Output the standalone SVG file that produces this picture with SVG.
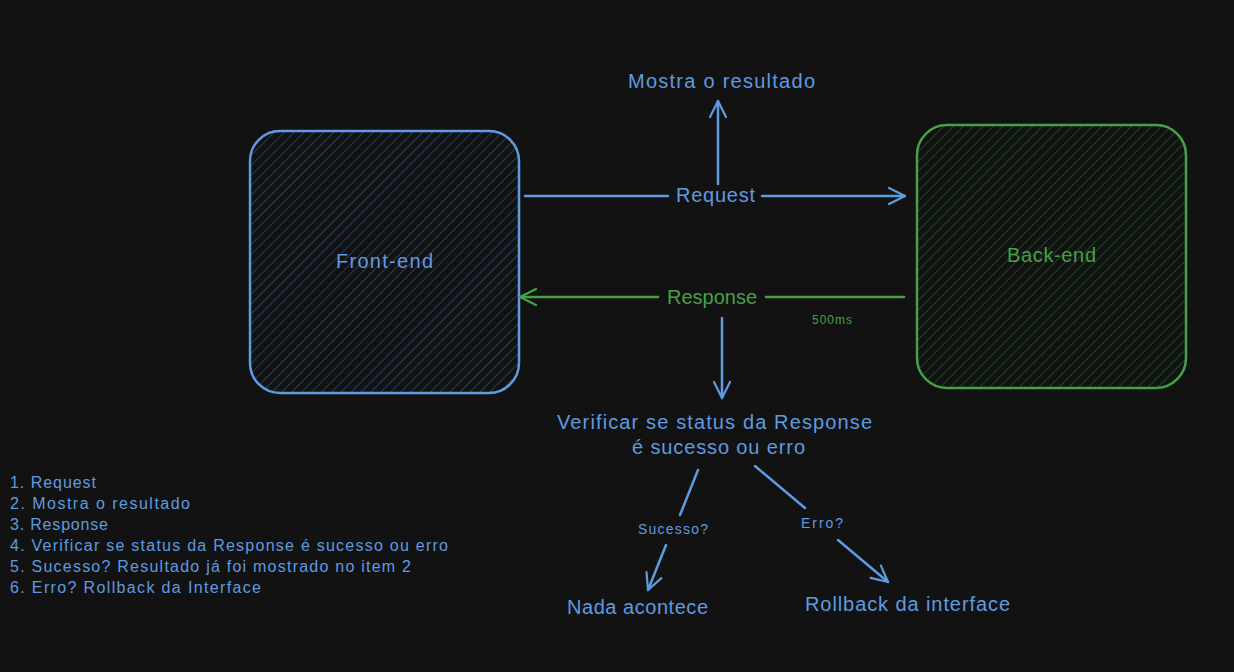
<svg xmlns="http://www.w3.org/2000/svg" width="1234" height="672" viewBox="0 0 1234 672">
<defs>
<pattern id="hatchBlue" patternUnits="userSpaceOnUse" width="7" height="7" patternTransform="rotate(45)">
<line x1="0" y1="0" x2="0" y2="7" stroke="#2a5785" stroke-width="1.3"/>
</pattern>
<pattern id="hatchGreen" patternUnits="userSpaceOnUse" width="7" height="7" patternTransform="rotate(45)">
<line x1="0" y1="0" x2="0" y2="7" stroke="#1f6226" stroke-width="1.3"/>
</pattern>
<marker id="arrowBlue" viewBox="0 0 20 20" refX="18" refY="10" markerWidth="20" markerHeight="20" markerUnits="userSpaceOnUse" orient="auto">
<path d="M2,2 L18,10 L2,18" fill="none" stroke="#5e9be0" stroke-width="2.2" stroke-linecap="round" stroke-linejoin="round"/>
</marker>
<marker id="arrowGreen" viewBox="0 0 20 20" refX="18" refY="10" markerWidth="20" markerHeight="20" markerUnits="userSpaceOnUse" orient="auto">
<path d="M2,2 L18,10 L2,18" fill="none" stroke="#47a047" stroke-width="2.2" stroke-linecap="round" stroke-linejoin="round"/>
</marker>
</defs>
<style>
text { font-family: "Liberation Sans", Arial, sans-serif; }
.blue { fill: #5e9be0; }
.green { fill: #47a047; }
.lb { stroke: #5e9be0; stroke-width: 2.5; fill: none; stroke-linecap: round; }
.lg { stroke: #47a047; stroke-width: 2.5; fill: none; stroke-linecap: round; }
.t20 { font-size: 20px; }
.t16 { font-size: 16px; }
.t14 { font-size: 14px; }
</style>
<rect x="0" y="0" width="1234" height="672" fill="#121212"/>

<g id="front-end">
<rect x="250" y="131" width="269" height="262" rx="30" fill="url(#hatchBlue)" stroke="#5e9be0" stroke-width="2.5"/>
<text x="336" y="268" class="blue t20" textLength="97" lengthAdjust="spacing">Front-end</text>
</g>

<g id="back-end">
<rect x="917" y="125" width="269" height="263" rx="30" fill="url(#hatchGreen)" stroke="#47a047" stroke-width="2.5"/>
<text x="1007" y="262" class="green t20" textLength="89" lengthAdjust="spacing">Back-end</text>
</g>

<g id="mostra">
<text x="628" y="88" class="blue t20" textLength="187" lengthAdjust="spacing">Mostra o resultado</text>
</g>

<g id="verificar">
<text x="557" y="429" class="blue t20" textLength="315" lengthAdjust="spacing">Verificar se status da Response</text>
<text x="632" y="454" class="blue t20" textLength="173" lengthAdjust="spacing">é sucesso ou erro</text>
</g>

<g id="nada">
<text x="567" y="614" class="blue t20" textLength="141" lengthAdjust="spacing">Nada acontece</text>
</g>

<g id="rollback">
<text x="805" y="611" class="blue t20" textLength="205" lengthAdjust="spacing">Rollback da interface</text>
</g>

<g id="connectors">
<line x1="525" y1="196" x2="668" y2="196" class="lb"/>
<line x1="762" y1="196" x2="905" y2="196" class="lb" marker-end="url(#arrowBlue)"/>
<text x="676" y="202" class="blue t20" textLength="79" lengthAdjust="spacing">Request</text>

<line x1="718" y1="184" x2="718" y2="101" class="lb" marker-end="url(#arrowBlue)"/>

<line x1="904" y1="297" x2="766" y2="297" class="lg"/>
<line x1="658" y1="297" x2="520" y2="297" class="lg" marker-end="url(#arrowGreen)"/>
<text x="667" y="304" class="green t20" textLength="90" lengthAdjust="spacing">Response</text>
<text x="812" y="324" class="green" font-size="12" textLength="40" lengthAdjust="spacing">500ms</text>

<line x1="722" y1="318" x2="722" y2="398" class="lb" marker-end="url(#arrowBlue)"/>

<line x1="698" y1="470" x2="680" y2="515" class="lb"/>
<line x1="666" y1="545" x2="648" y2="590" class="lb" marker-end="url(#arrowBlue)"/>
<text x="638" y="534" class="blue t14" textLength="70" lengthAdjust="spacing">Sucesso?</text>

<line x1="755" y1="466" x2="805" y2="508" class="lb"/>
<line x1="838" y1="540" x2="888" y2="582" class="lb" marker-end="url(#arrowBlue)"/>
<text x="801" y="528" class="blue t14" textLength="42" lengthAdjust="spacing">Erro?</text>
</g>

<g id="legend">
<text x="10" y="488" class="blue t16" textLength="86" lengthAdjust="spacing">1. Request</text>
<text x="10" y="509" class="blue t16" textLength="180" lengthAdjust="spacing">2. Mostra o resultado</text>
<text x="10" y="530" class="blue t16" textLength="98" lengthAdjust="spacing">3. Response</text>
<text x="10" y="551" class="blue t16" textLength="438" lengthAdjust="spacing">4. Verificar se status da Response é sucesso ou erro</text>
<text x="10" y="572" class="blue t16" textLength="401" lengthAdjust="spacing">5. Sucesso? Resultado já foi mostrado no item 2</text>
<text x="10" y="593" class="blue t16" textLength="251" lengthAdjust="spacing">6. Erro? Rollback da Interface</text>
</g>
</svg>
